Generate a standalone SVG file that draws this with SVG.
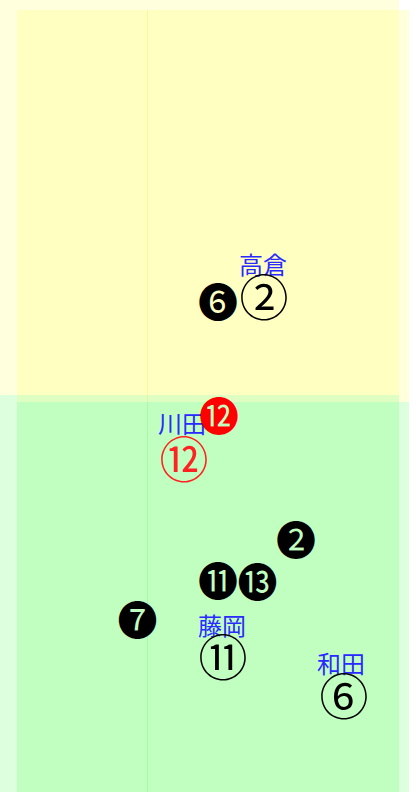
<svg xmlns="http://www.w3.org/2000/svg" width="417" height="792" viewBox="0 0 417 792">
<style>
.y{fill:#ffff00;fill-opacity:0.13}
.g{fill:#00ff00;fill-opacity:0.13}
.name{font-family:"Noto Sans CJK JP","Noto Sans CJK SC",sans-serif;font-size:24px;fill:#2a2aff;text-anchor:middle}
.w{font-family:"Noto Sans CJK JP","DejaVu Sans",sans-serif;font-size:49px;fill:#000;text-anchor:middle}
.b{font-family:"Noto Sans CJK JP","DejaVu Sans",sans-serif;font-size:40px;fill:#000;text-anchor:middle}
</style>
<rect width="417" height="792" fill="#fff"/>
<g id="field">
<rect class="y" x="0" y="0" width="399" height="395"/>
<rect class="y" x="17" y="10" width="392" height="392"/>
<rect class="g" x="0" y="395" width="399" height="397"/>
<rect class="g" x="17" y="402" width="392" height="390"/>
<line x1="147.5" y1="10" x2="147.5" y2="402" stroke="#e0e000" stroke-opacity="0.2"/>
<line x1="147.5" y1="402" x2="147.5" y2="792" stroke="#00c000" stroke-opacity="0.12"/>
</g>
<g id="connectors"></g>
<g id="n-takakura"><text class="name" x="263" y="274">高倉</text><text class="w" x="264" y="315.5">②</text></g>
<g id="n-b6"><text class="b" x="218" y="316.5">❻</text></g>
<g id="n-kawada"><text class="name" x="182" y="433">川田</text><text class="w" x="184" y="477.5" style="fill:#ff2222">⑫</text></g>
<g id="n-r12"><text class="b" x="219" y="430.5" style="fill:#ff0000">⓬</text></g>
<g id="n-b2"><text class="b" x="296" y="555">❷</text></g>
<g id="n-b11"><text class="b" x="218" y="596">⓫</text></g>
<g id="n-b13"><text class="b" x="257.5" y="597">⓭</text></g>
<g id="n-b7"><text class="b" x="137.5" y="635">❼</text></g>
<g id="n-fujioka"><text class="name" x="222" y="635">藤岡</text><text class="w" x="223" y="675.5">⑪</text></g>
<g id="n-wada"><text class="name" x="341" y="673">和田</text><text class="w" x="344" y="714.5">⑥</text></g>
</svg>
